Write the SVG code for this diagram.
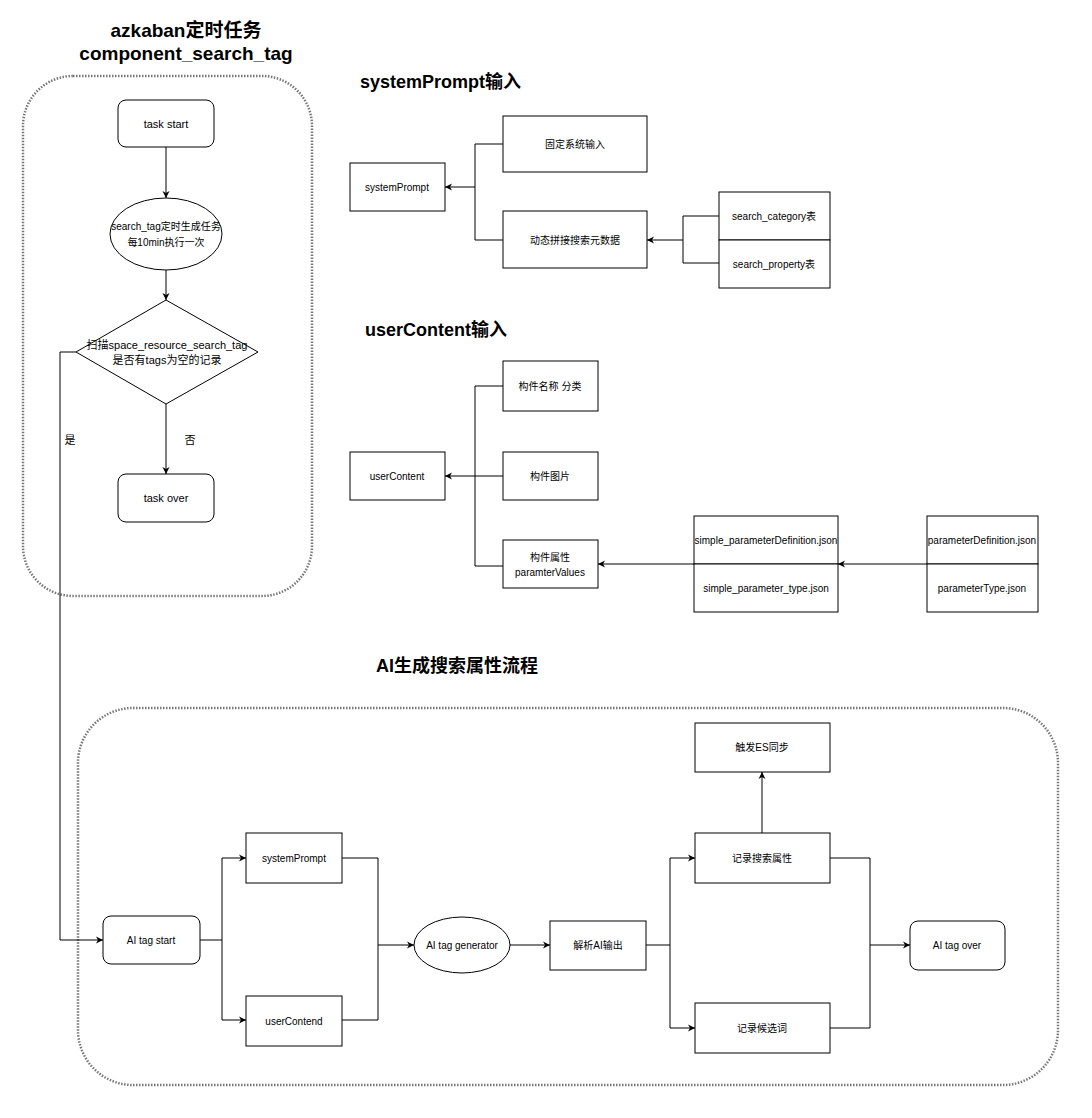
<svg xmlns="http://www.w3.org/2000/svg" width="1092" height="1118" viewBox="0 0 1092 1118">
<style>
text{font-family:"Liberation Sans",Arial,"Noto Sans CJK SC",sans-serif;font-size:11px;fill:#000;text-anchor:middle;dominant-baseline:central}
.s{font-size:10px}
.t{font-size:19px;font-weight:bold}
.h{font-size:18px;font-weight:bold;text-anchor:start}
.n{fill:#fff;stroke:#000;stroke-width:1}
.c{fill:none;stroke:#000;stroke-width:1}
.d{fill:none;stroke:#777;stroke-width:2.5;stroke-dasharray:1.5 1.5}
</style>
<defs><marker id="a" markerWidth="8" markerHeight="8" refX="7" refY="4" orient="auto" markerUnits="userSpaceOnUse"><path d="M0,0.5 L7,4 L0,7.5 L2,4 Z" fill="#000"/></marker></defs>
<rect width="1092" height="1118" fill="#fff"/>
<text class="t" x="186" y="30">azkaban定时任务</text>
<text class="t" x="186" y="53">component_search_tag</text>
<text class="h" x="360" y="82">systemPrompt输入</text>
<text class="h" x="365" y="330">userContent输入</text>
<text class="h" x="376" y="666">AI生成搜索属性流程</text>
<rect class="d" x="23" y="76" width="289" height="520" rx="50"/>
<rect class="d" x="78" y="708" width="980" height="377" rx="55"/>
<g id="connectors">
<path class="c" marker-end="url(#a)" d="M166,147V198"/>
<path class="c" marker-end="url(#a)" d="M166,270V300"/>
<path class="c" marker-end="url(#a)" d="M166,404V474"/>
<path class="c" marker-end="url(#a)" d="M76,352H60V940H103"/>
<text x="190" y="440">否</text><text x="70" y="440">是</text>
<path class="c" d="M503,144H475V240H503"/><path class="c" marker-end="url(#a)" d="M475,187H445"/>
<path class="c" d="M719,216H683V263H719"/><path class="c" marker-end="url(#a)" d="M683,240H647"/>
<path class="c" d="M503,386H475V566H503"/><path class="c" marker-end="url(#a)" d="M503,476H445"/>
<path class="c" marker-end="url(#a)" d="M694,564H598"/>
<path class="c" marker-end="url(#a)" d="M927,564H838"/>
<path class="c" d="M200,940H222"/><path class="c" marker-end="url(#a)" d="M222,940V858H246"/><path class="c" marker-end="url(#a)" d="M222,940V1020H246"/>
<path class="c" d="M342,858H378V1020H342"/><path class="c" marker-end="url(#a)" d="M378,945H414"/>
<path class="c" marker-end="url(#a)" d="M510,945H550"/>
<path class="c" d="M646,945H670"/><path class="c" marker-end="url(#a)" d="M670,945V858H695"/><path class="c" marker-end="url(#a)" d="M670,945V1028H695"/>
<path class="c" marker-end="url(#a)" d="M762,833V772"/>
<path class="c" d="M830,858H870V1028H830"/><path class="c" marker-end="url(#a)" d="M870,945H910"/>
</g>
<g id="taskstart"><rect class="n" x="118" y="100" width="96" height="47" rx="8"/><text x="166" y="124">task start</text></g>
<g id="gen"><ellipse class="n" cx="166" cy="234" rx="56" ry="36"/><text x="166" y="226" class="s">search_tag定时生成任务</text><text x="166" y="242" class="s">每10min执行一次</text></g>
<g id="scan"><path class="n" d="M166,300L258,352L166,404L76,352Z"/><text x="167" y="345">扫描space_resource_search_tag</text><text x="167" y="360">是否有tags为空的记录</text></g>
<g id="taskover"><rect class="n" x="118" y="474" width="96" height="48" rx="8"/><text x="166" y="498">task over</text></g>
<g id="sp"><rect class="n" x="350" y="163" width="95" height="48"/><text x="397" y="187" class="s">systemPrompt</text></g>
<g id="fixed"><rect class="n" x="503" y="116" width="144" height="56"/><text x="575" y="144" class="s">固定系统输入</text></g>
<g id="dyn"><rect class="n" x="503" y="211" width="144" height="57"/><text x="575" y="240" class="s">动态拼接搜索元数据</text></g>
<g id="cat"><rect class="n" x="719" y="192" width="111" height="48"/><text x="774" y="216" class="s">search_category表</text></g>
<g id="prop"><rect class="n" x="719" y="240" width="111" height="48"/><text x="774" y="264" class="s">search_property表</text></g>
<g id="uc"><rect class="n" x="350" y="452" width="95" height="48"/><text x="397" y="476" class="s">userContent</text></g>
<g id="name"><rect class="n" x="503" y="361" width="95" height="50"/><text x="550" y="386" class="s">构件名称 分类</text></g>
<g id="img"><rect class="n" x="503" y="452" width="95" height="48"/><text x="550" y="476" class="s">构件图片</text></g>
<g id="attr"><rect class="n" x="503" y="540" width="95" height="48"/><text x="550" y="557" class="s">构件属性</text><text x="550" y="572" class="s">paramterValues</text></g>
<g id="spd"><rect class="n" x="694" y="516" width="144" height="48"/><text x="766" y="540" class="s">simple_parameterDefinition.json</text></g>
<g id="spt"><rect class="n" x="694" y="564" width="144" height="48"/><text x="766" y="588" class="s">simple_parameter_type.json</text></g>
<g id="pd"><rect class="n" x="927" y="516" width="111" height="48"/><text x="982" y="540" class="s">parameterDefinition.json</text></g>
<g id="pt"><rect class="n" x="927" y="564" width="111" height="48"/><text x="982" y="588" class="s">parameterType.json</text></g>
<g id="ais"><rect class="n" x="103" y="916" width="97" height="48" rx="8"/><text x="151" y="940" class="s">AI tag start</text></g>
<g id="sp2"><rect class="n" x="246" y="833" width="96" height="50"/><text x="294" y="858" class="s">systemPrompt</text></g>
<g id="uc2"><rect class="n" x="246" y="996" width="96" height="50"/><text x="294" y="1021" class="s">userContend</text></g>
<g id="aig"><ellipse class="n" cx="462" cy="945" rx="48" ry="28"/><text x="462" y="945" class="s">AI tag generator</text></g>
<g id="parse"><rect class="n" x="550" y="921" width="96" height="49"/><text x="598" y="945" class="s">解析AI输出</text></g>
<g id="es"><rect class="n" x="695" y="723" width="135" height="49"/><text x="762" y="747" class="s">触发ES同步</text></g>
<g id="rec"><rect class="n" x="695" y="833" width="135" height="50"/><text x="762" y="858" class="s">记录搜索属性</text></g>
<g id="cand"><rect class="n" x="695" y="1003" width="135" height="50"/><text x="762" y="1028" class="s">记录候选词</text></g>
<g id="aio"><rect class="n" x="910" y="921" width="95" height="49" rx="8"/><text x="957" y="945" class="s">AI tag over</text></g>
</svg>
